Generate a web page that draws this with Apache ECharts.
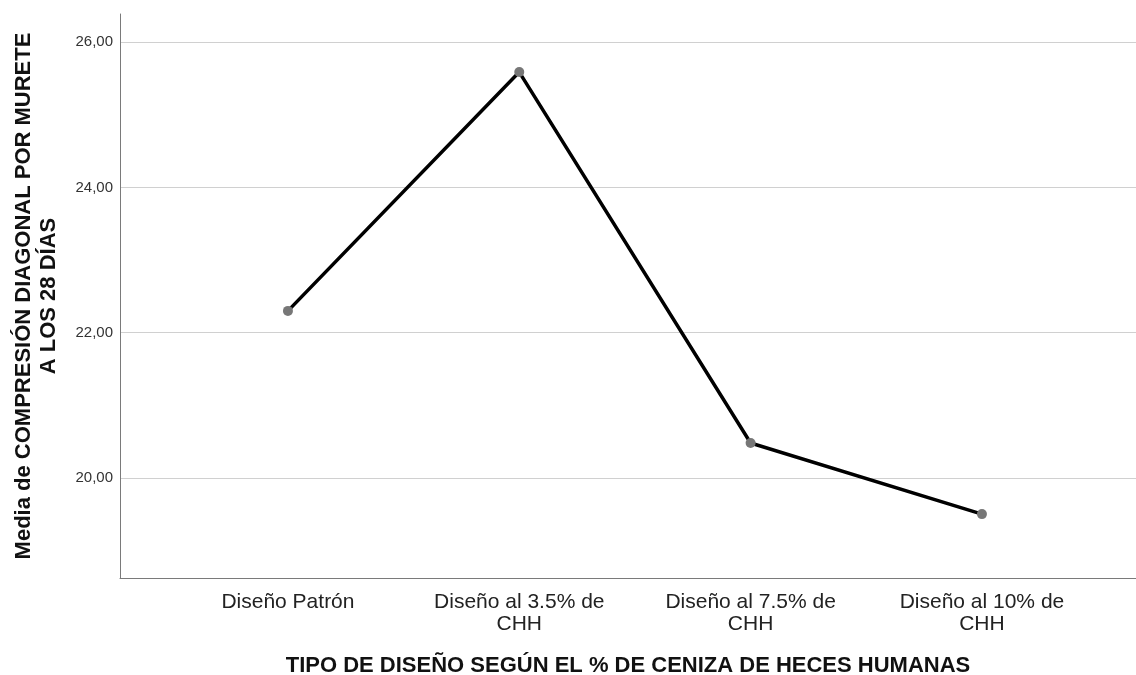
<!DOCTYPE html>
<html>
<head>
<meta charset="utf-8">
<script src="https://cdn.jsdelivr.net/npm/echarts@6/dist/echarts.min.js"></script>
<style>html,body{margin:0;padding:0;background:#fff}#c{width:1136px;height:675px}</style>
</head>
<body>
<div id="c"></div>
<script>
const categories = ['Diseño Patrón', 'Diseño al 3.5% de\nCHH', 'Diseño al 7.5% de\nCHH', 'Diseño al 10% de\nCHH'];
const values = [22.30, 25.59, 20.48, 19.50];
const yTicks = [20, 22, 24, 26];
const xTitle = 'TIPO DE DISEÑO SEGÚN EL % DE CENIZA DE HECES HUMANAS';
const yTitle = 'Media de COMPRESIÓN DIAGONAL POR MURETE\nA LOS 28 DÍAS';

const chart = echarts.init(document.getElementById('c'));
const font = '"Liberation Sans", Arial, sans-serif';
chart.setOption({
  animation: false,
  grid: { left: 120, right: 0, top: 14, bottom: 97, containLabel: false, outerBoundsMode: 'none' },
  xAxis: {
    type: 'value',
    min: -0.726, max: 3.666,
    splitLine: { show: false },
    axisLine: { onZero: false, lineStyle: { color: '#7a7a7a', width: 1 } },
    axisTick: { show: false, customValues: categories.map((c, i) => i) },
    axisLabel: {
      customValues: categories.map((c, i) => i),
      formatter: v => categories[Math.round(v)],
      color: '#222', fontSize: 21, fontFamily: font, lineHeight: 22, margin: 13
    },
    name: xTitle, nameLocation: 'middle', nameGap: 77,
    nameTextStyle: { color: '#111', fontSize: 22, fontWeight: 'bold', fontFamily: font }
  },
  yAxis: {
    type: 'value',
    min: 18.62, max: 26.39,
    axisLine: { show: true, onZero: false, lineStyle: { color: '#7a7a7a', width: 1 } },
    axisTick: { show: false, customValues: yTicks },
    axisLabel: {
      customValues: yTicks,
      formatter: v => v.toFixed(2).replace('.', ','),
      color: '#333', fontSize: 15, fontFamily: font, margin: 7
    },
    splitLine: { show: true, lineStyle: { color: '#d0d0d0', width: 1 } },
    name: yTitle, nameLocation: 'middle', nameGap: 59, nameRotate: 90,
    nameTextStyle: { color: '#111', fontSize: 22, fontWeight: 'bold', fontFamily: font, lineHeight: 25 }
  },
  series: [{
    type: 'line',
    data: values.map((v, i) => [i, v]),
    lineStyle: { color: '#000', width: 3.5 },
    symbol: 'circle', symbolSize: 10,
    itemStyle: { color: '#777' },
    z: 3
  }]
});
</script>
</body>
</html>
